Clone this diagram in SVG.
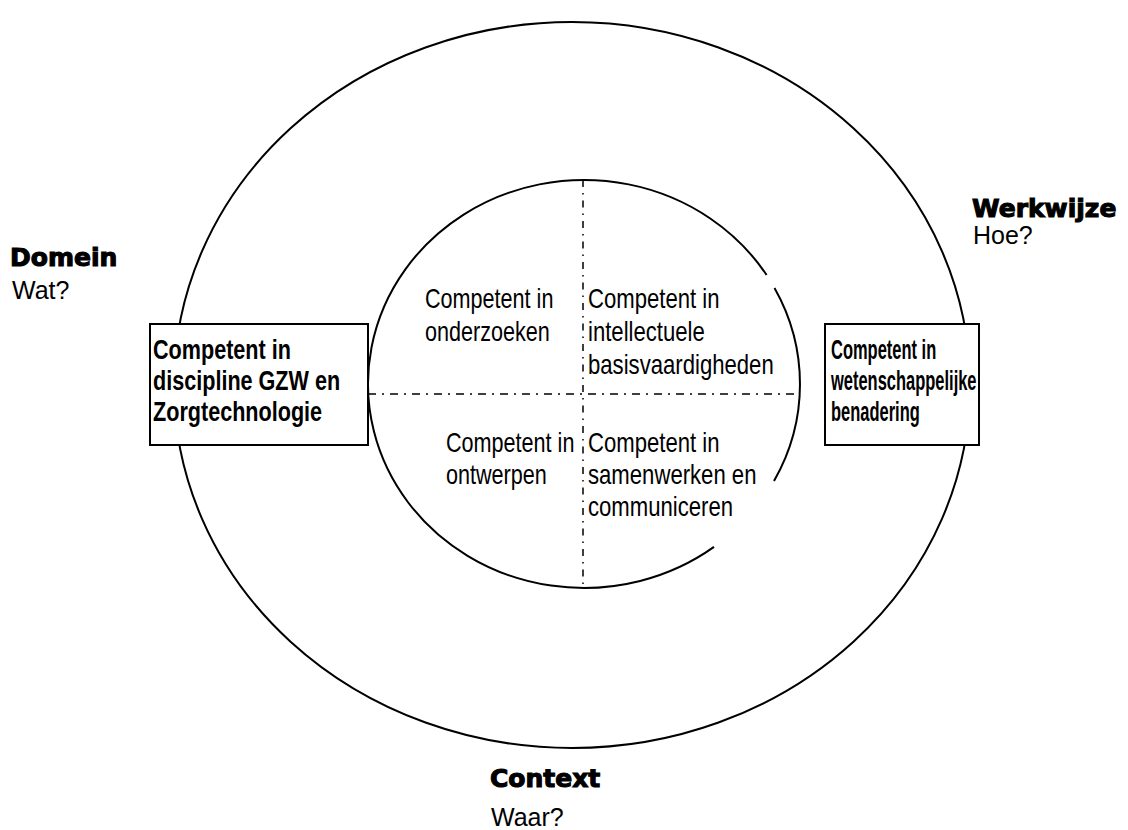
<svg xmlns="http://www.w3.org/2000/svg" width="1128" height="830" viewBox="0 0 1128 830">
<style>
.line{fill:none;stroke:#000;stroke-width:2}
.box{fill:#fff;stroke:#000;stroke-width:2}
.dd{stroke:#000;stroke-width:1.5;fill:none}
.t{font-family:"Liberation Sans",Arial,sans-serif;font-size:27px;fill:#000}
.b{font-family:"Liberation Sans",Arial,sans-serif;font-size:27px;font-weight:bold;fill:#000}
.h{font-family:"DejaVu Sans",sans-serif;font-size:25px;font-weight:bold;fill:#000;stroke:#000;stroke-width:1.1}
.q{font-family:"Liberation Sans",Arial,sans-serif;font-size:25px;fill:#000}
</style>
<g id="connectors">
<ellipse id="outer" class="line" cx="572" cy="385" rx="398" ry="363"/>
<path id="inner-right" class="line" d="M774.5,287.9 A216,204 0 0 1 774,481"/>
<path id="inner-main" class="line" d="M714,546.9 A216,204 0 1 1 766.6,275"/>
<line class="dd" x1="583" y1="180" x2="583" y2="590" stroke-dasharray="7 6 1.5 6"/>
<line class="dd" x1="368" y1="394" x2="800" y2="394" stroke-dasharray="8 6 2 6"/>
</g>
<g id="q1"><text class="t" transform="translate(425,308) scale(0.8,1)"><tspan x="0" y="0">Competent in</tspan><tspan x="0" y="33">onderzoeken</tspan></text></g>
<g id="q2"><text class="t" transform="translate(588,308) scale(0.82,1)"><tspan x="0" y="0">Competent in</tspan><tspan x="0" y="33">intellectuele</tspan><tspan x="0" y="66">basisvaardigheden</tspan></text></g>
<g id="q3"><text class="t" transform="translate(446,452) scale(0.8,1)"><tspan x="0" y="0">Competent in</tspan><tspan x="0" y="32">ontwerpen</tspan></text></g>
<g id="q4"><text class="t" transform="translate(588,452) scale(0.82,1)"><tspan x="0" y="0">Competent in</tspan><tspan x="0" y="32">samenwerken en</tspan><tspan x="0" y="64">communiceren</tspan></text></g>
<g id="box-left">
<rect class="box" x="150" y="324" width="218" height="121"/>
<text class="b" transform="translate(153,359) scale(0.8,1)"><tspan x="0" y="0">Competent in</tspan><tspan x="0" y="31">discipline GZW en</tspan><tspan x="0" y="62">Zorgtechnologie</tspan></text>
</g>
<g id="box-right">
<rect class="box" x="825" y="324" width="154" height="121"/>
<text class="b" transform="translate(831,359) scale(0.61,1)"><tspan x="0" y="0">Competent in</tspan><tspan x="0" y="31">wetenschappelijke</tspan><tspan x="0" y="62">benadering</tspan></text>
</g>
<g id="domein"><text class="h" x="10" y="266">Domein</text><text class="q" x="12" y="299">Wat?</text></g>
<g id="werkwijze"><text class="h" x="972" y="217">Werkwijze</text><text class="q" x="973" y="244">Hoe?</text></g>
<g id="context"><text class="h" x="490" y="787">Context</text><text class="q" x="491" y="826">Waar?</text></g>
</svg>
